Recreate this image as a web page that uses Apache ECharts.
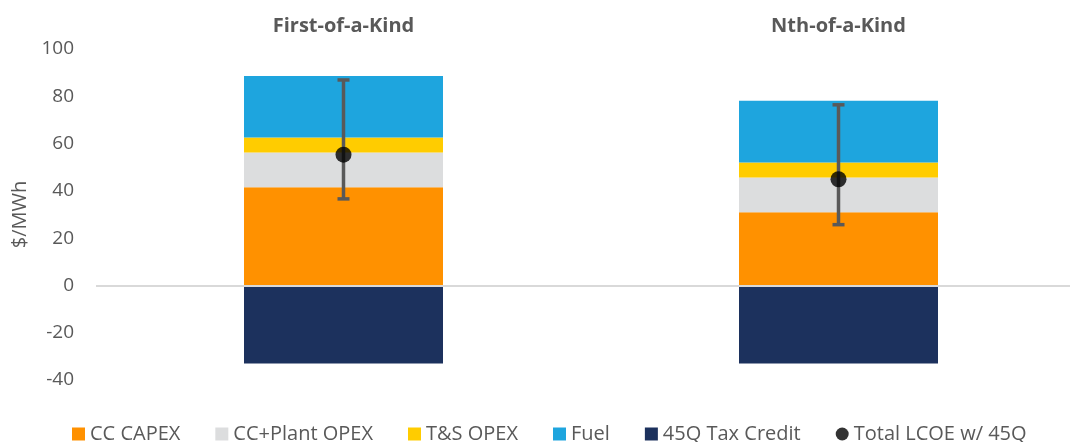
<!DOCTYPE html>
<html>
<head>
<meta charset="utf-8">
<script src="https://cdn.jsdelivr.net/npm/echarts@6/dist/echarts.min.js"></script>
<style>
  html, body { margin: 0; padding: 0; background: #fff; }
  #chart { width: 1070px; height: 442px; }
</style>
</head>
<body>
<div id="chart"></div>
<script>
// categories and series values ($/MWh)
var categories = ['First-of-a-Kind', 'Nth-of-a-Kind'];
var ccCapex = [41.5, 30.9];
var plantOpex = [14.7, 14.8];
var tsOpex = [6.4, 6.3];
var fuel = [26.0, 26.1];
var taxCredit = [-33.0, -33.0];
var totalLcoe = [55.3, 44.9];
var errLow = [36.6, 25.7];
var errHigh = [86.9, 76.4];
var yTicks = [-40, 100, 20]; // min, max, step

var textColor = '#595959';
var font = 'Open Sans';

function barSeries(name, data, color) {
	return {
		name: name,
		type: 'bar',
		stack: 'lcoe',
		data: data,
		barWidth: 199,
		itemStyle: { color: color },
		emphasis: { disabled: true }
	};
}

var errData = [];
for (var i = 0; i < categories.length; i++) {
	errData.push([i, errLow[i], errHigh[i]]);
}

var myChart = echarts.init(document.getElementById('chart'));
var option = {
	animation: false,
	textStyle: { fontFamily: font },
	grid: { left: 96, top: 49, width: 990, height: 331, containLabel: false, outerBoundsMode: 'none' },
	legend: {
		left: 67,
		top: 419,
		itemWidth: 13,
		itemHeight: 13,
		itemGap: 35,
		textStyle: { color: textColor, fontSize: 20, fontFamily: font },
		data: [
			{ name: 'CC CAPEX', icon: 'rect' },
			{ name: 'CC+Plant OPEX', icon: 'rect' },
			{ name: 'T&S OPEX', icon: 'rect' },
			{ name: 'Fuel', icon: 'rect' },
			{ name: '45Q Tax Credit', icon: 'rect' },
			{ name: 'Total LCOE w/ 45Q', icon: 'circle' }
		]
	},
	xAxis: {
		type: 'category',
		position: 'top',
		data: categories,
		axisLine: { show: false, onZero: false },
		axisTick: { show: false },
		axisLabel: { color: textColor, fontSize: 20, fontWeight: 'bold', margin: 13, fontFamily: font }
	},
	yAxis: {
		type: 'value',
		min: yTicks[0],
		max: yTicks[1],
		interval: yTicks[2],
		name: '$/MWh',
		nameLocation: 'middle',
		nameGap: 66,
		nameTextStyle: { color: textColor, fontSize: 20, fontFamily: font },
		axisLine: { show: false },
		axisTick: { show: false },
		splitLine: { show: false },
		axisLabel: { color: textColor, fontSize: 19, margin: 22, fontFamily: font }
	},
	series: [
		barSeries('CC CAPEX', ccCapex, '#FF9100'),
		barSeries('CC+Plant OPEX', plantOpex, '#DCDDDE'),
		barSeries('T&S OPEX', tsOpex, '#FFCC00'),
		barSeries('Fuel', fuel, '#1EA5DE'),
		barSeries('45Q Tax Credit', taxCredit, '#1C315D'),
		{
			// zero line
			type: 'line',
			data: [],
			silent: true,
			markLine: {
				symbol: 'none',
				silent: true,
				label: { show: false },
				lineStyle: { color: '#D9D9D9', width: 2, type: 'solid' },
				data: [{ yAxis: 0 }]
			}
		},
		{
			name: 'errorbar',
			type: 'custom',
			data: errData,
			z: 5,
			renderItem: function (params, api) {
				var x = api.value(0);
				var lo = api.coord([x, api.value(1)]);
				var hi = api.coord([x, api.value(2)]);
				var half = 6;
				var style = { stroke: '#595959', lineWidth: 3.5 };
				return {
					type: 'group',
					children: [
						{ type: 'line', shape: { x1: lo[0], y1: lo[1], x2: hi[0], y2: hi[1] }, style: style },
						{ type: 'line', shape: { x1: lo[0] - half, y1: lo[1], x2: lo[0] + half, y2: lo[1] }, style: style },
						{ type: 'line', shape: { x1: hi[0] - half, y1: hi[1], x2: hi[0] + half, y2: hi[1] }, style: style }
					]
				};
			}
		},
		{
			name: 'Total LCOE w/ 45Q',
			type: 'scatter',
			data: totalLcoe,
			symbol: 'circle',
			symbolSize: 16,
			z: 10,
			itemStyle: { color: '#000' }
		}
	]
};
myChart.setOption(option);
</script>
</body>
</html>
